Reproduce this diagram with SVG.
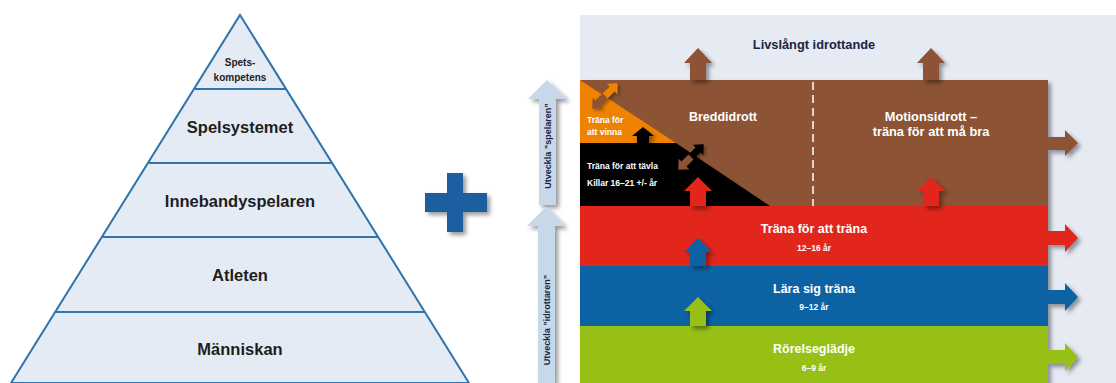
<svg xmlns="http://www.w3.org/2000/svg" width="1116" height="383" viewBox="0 0 1116 383">
<defs>
<filter id="sh" x="-20%" y="-20%" width="150%" height="150%">
<feDropShadow dx="3" dy="3" stdDeviation="2" flood-color="#000" flood-opacity="0.4"/>
</filter>
<filter id="shs" x="-20%" y="-20%" width="150%" height="150%">
<feDropShadow dx="2" dy="2" stdDeviation="1.5" flood-color="#000" flood-opacity="0.35"/>
</filter>
<style>
.pyr{fill:#e5ebf5;stroke:#2f74ad;stroke-width:2}
.pl{stroke:#2f74ad;stroke-width:2}
.pt{font-family:"Liberation Sans",Arial,sans-serif;font-weight:bold;fill:#1e1e1e;text-anchor:middle}
.wt{font-family:"Liberation Sans",Arial,sans-serif;font-weight:bold;fill:#ffffff}
.mid{text-anchor:middle}
.nav{font-family:"Liberation Sans",Arial,sans-serif;font-weight:bold;fill:#1a2540;text-anchor:middle}
.la{fill:#c8d8eb}
</style>
</defs>
<rect width="1116" height="383" fill="#ffffff"/>

<g id="pyramid">
<polygon class="pyr" points="240,15 469,383 11,383"/>
<line class="pl" x1="195" y1="89" x2="286" y2="89"/>
<line class="pl" x1="149" y1="163" x2="332" y2="163"/>
<line class="pl" x1="103" y1="237" x2="378" y2="237"/>
<line class="pl" x1="56" y1="312" x2="425" y2="312"/>
<text class="pt" x="240" y="66" font-size="10">Spets-</text>
<text class="pt" x="240" y="81" font-size="10">kompetens</text>
<text class="pt" x="240" y="133" font-size="16.5">Spelsystemet</text>
<text class="pt" x="240" y="207" font-size="16.5">Innebandyspelaren</text>
<text class="pt" x="240" y="281" font-size="16.5">Atleten</text>
<text class="pt" x="240" y="355" font-size="16.5">Människan</text>
</g>

<g id="plus" filter="url(#sh)">
<path d="M447,173 H463 V193 H487 V212 H463 V232 H447 V212 H425 V193 H447 Z" fill="#1b5fa0"/>
</g>

<g id="model">
<rect x="580" y="15" width="536" height="368" fill="#e6eaf3"/>
<g filter="url(#sh)">
<rect x="580" y="80" width="468" height="126" fill="#8c5234"/>
<rect x="580" y="206" width="468" height="60" fill="#e2271a"/>
<rect x="580" y="266" width="468" height="60" fill="#0862a3"/>
<rect x="580" y="326" width="468" height="57" fill="#97c012"/>
</g>
<polygon points="580,80 676,143 580,143" fill="#ef8200"/>
<polygon points="580,143 676,143 770,206 580,206" fill="#000000"/>
<line x1="813" y1="82" x2="813" y2="206" stroke="#ffffff" stroke-width="1.5" stroke-dasharray="8,5"/>
</g>

<g id="connectors">
<g filter="url(#sh)">
<path d="M698,48 L712,63 L706,63 L706,80 L690,80 L690,63 L684,63 Z" fill="#8c5234"/>
<path d="M931,48 L945,63 L939,63 L939,80 L923,80 L923,63 L917,63 Z" fill="#8c5234"/>
<path d="M1048,137 H1065 V130 L1078,143 L1065,156 V150 H1048 Z" fill="#8c5234"/>
<path d="M698,177 L712,191 L706,191 L706,206 L690,206 L690,191 L684,191 Z" fill="#e2271a"/>
<path d="M931,177 L945,191 L939,191 L939,206 L923,206 L923,191 L917,191 Z" fill="#e2271a"/>
<path d="M1048,231 H1065 V224 L1078,238 L1065,252 V245 H1048 Z" fill="#e2271a"/>
<path d="M698,238 L712,252 L706,252 L706,266 L690,266 L690,252 L684,252 Z" fill="#0862a3"/>
<path d="M1048,290 H1065 V283 L1078,297 L1065,311 V304 H1048 Z" fill="#0862a3"/>
<path d="M698,297 L712,311 L706,311 L706,326 L690,326 L690,311 L684,311 Z" fill="#97c012"/>
<path d="M1048,350 H1065 V343 L1078,357 L1065,371 V364 H1048 Z" fill="#97c012"/>
<path d="M643,127 L654,136 L649,136 L649,143 L637,143 L637,136 L632,136 Z" fill="#000000"/>
</g>
<g filter="url(#shs)">
<g transform="translate(605,96) rotate(-45)">
<path d="M0,-3.5 H10 V-7.5 L18,0 L10,7.5 V3.5 H0 Z" fill="#ef8200"/>
<path d="M0,-3.5 H-10 V-7.5 L-18,0 L-10,7.5 V3.5 H0 Z" fill="#8c5234"/>
</g>
<g transform="translate(691,157) rotate(-45)">
<path d="M0,-3.5 H10 V-7.5 L18,0 L10,7.5 V3.5 H0 Z" fill="#000000"/>
<path d="M0,-3.5 H-10 V-7.5 L-18,0 L-10,7.5 V3.5 H0 Z" fill="#8c5234"/>
</g>
</g>
<g filter="url(#sh)">
<path class="la" d="M547,80 L567,99 L556,99 L556,205 L539,205 L539,99 L528,99 Z"/>
<path class="la" d="M546,207 L565,226 L555,226 L555,383 L538,383 L538,226 L527,226 Z"/>
</g>
</g>

<g id="labels">
<text class="nav" x="814" y="49" font-size="12.8">Livslångt idrottande</text>
<text class="wt mid" x="723" y="121" font-size="12.5">Breddidrott</text>
<text class="wt mid" x="931" y="121" font-size="12.8">Motionsidrott –</text>
<text class="wt mid" x="931" y="136" font-size="12.8">träna för att må bra</text>
<text class="wt" x="587" y="123" font-size="8.5">Träna för</text>
<text class="wt" x="587" y="135" font-size="8.5">att vinna</text>
<text class="wt" x="587" y="169" font-size="8.5">Träna för att tävla</text>
<text class="wt" x="587" y="186" font-size="8.5">Killar 16–21 +/- år</text>
<text class="wt mid" x="814" y="233" font-size="12.5">Träna för att träna</text>
<text class="wt mid" x="814" y="251" font-size="8.5">12–16 år</text>
<text class="wt mid" x="814" y="293" font-size="12.5">Lära sig träna</text>
<text class="wt mid" x="814" y="310" font-size="8.5">9–12 år</text>
<text class="wt mid" x="814" y="353" font-size="12.5">Rörelseglädje</text>
<text class="wt mid" x="814" y="371" font-size="8.5">6–9 år</text>
<text class="nav" transform="translate(551,146) rotate(-90)" font-size="9">Utveckla ”spelaren”</text>
<text class="nav" transform="translate(550,320) rotate(-90)" font-size="9">Utveckla ”idrottaren”</text>
</g>
</svg>
